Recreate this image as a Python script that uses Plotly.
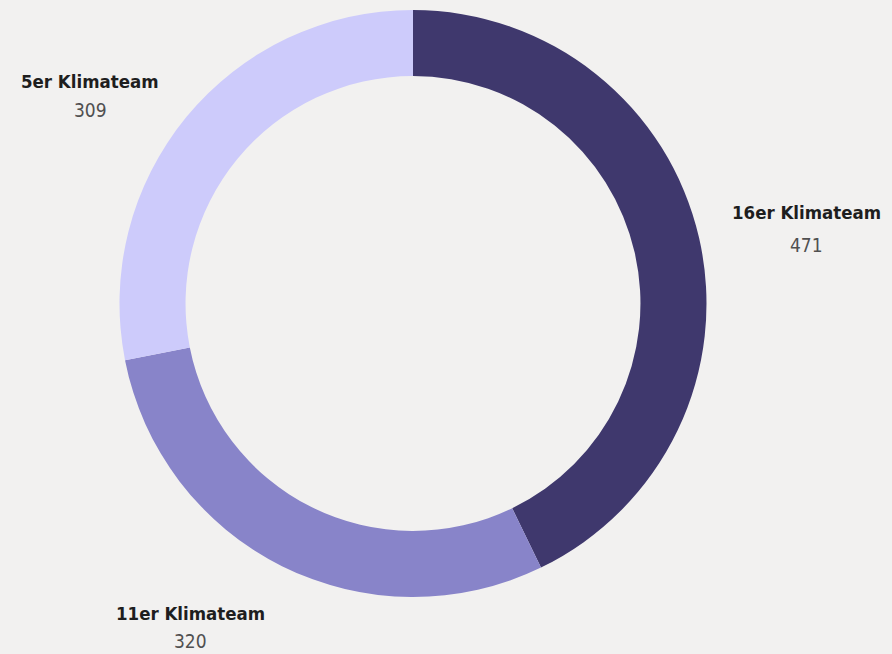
import plotly.graph_objects as go

categories = ["16er Klimateam", "11er Klimateam", "5er Klimateam"]
values = [471, 320, 309]
colors = ["#3f386d", "#8884c9", "#cdcbfb"]

W, H = 892, 654
cx, cy, r = 413, 303.5, 293.5

fig = go.Figure(go.Pie(
    labels=categories, values=values, sort=False, direction="clockwise", rotation=0,
    hole=0.775, marker=dict(colors=colors, line=dict(width=0)),
    textinfo="none", hoverinfo="label+value", showlegend=False,
    domain=dict(x=[(cx - r) / W, (cx + r) / W], y=[(H - cy - r) / H, (H - cy + r) / H]),
))

# (center x, name center y, value center y) in pixels
label_pos = {"16er Klimateam": (806, 213, 245), "11er Klimateam": (190, 613, 641), "5er Klimateam": (90, 81, 110)}
font_fam = "DejaVu Sans Condensed, Roboto, sans-serif"
for c, v in zip(categories, values):
    x, yn, yv = label_pos[c]
    fig.add_annotation(x=x / W, y=1 - yn / H, xref="paper", yref="paper", showarrow=False,
                       text=f"<b>{c}</b>", font=dict(family=font_fam, size=18.5, color="#1e1e1e"),
                       xanchor="center", yanchor="middle")
    fig.add_annotation(x=x / W, y=1 - yv / H, xref="paper", yref="paper", showarrow=False,
                       text=str(v), font=dict(family=font_fam, size=19, color="#505050"),
                       xanchor="center", yanchor="middle")

fig.update_layout(width=W, height=H, margin=dict(l=0, r=0, t=0, b=0),
                  paper_bgcolor="#f2f1f0", plot_bgcolor="#f2f1f0")
fig.write_html("out.html", config={"displayModeBar": False},
               post_script="document.body.style.margin='0';document.body.style.background='#f2f1f0';")
